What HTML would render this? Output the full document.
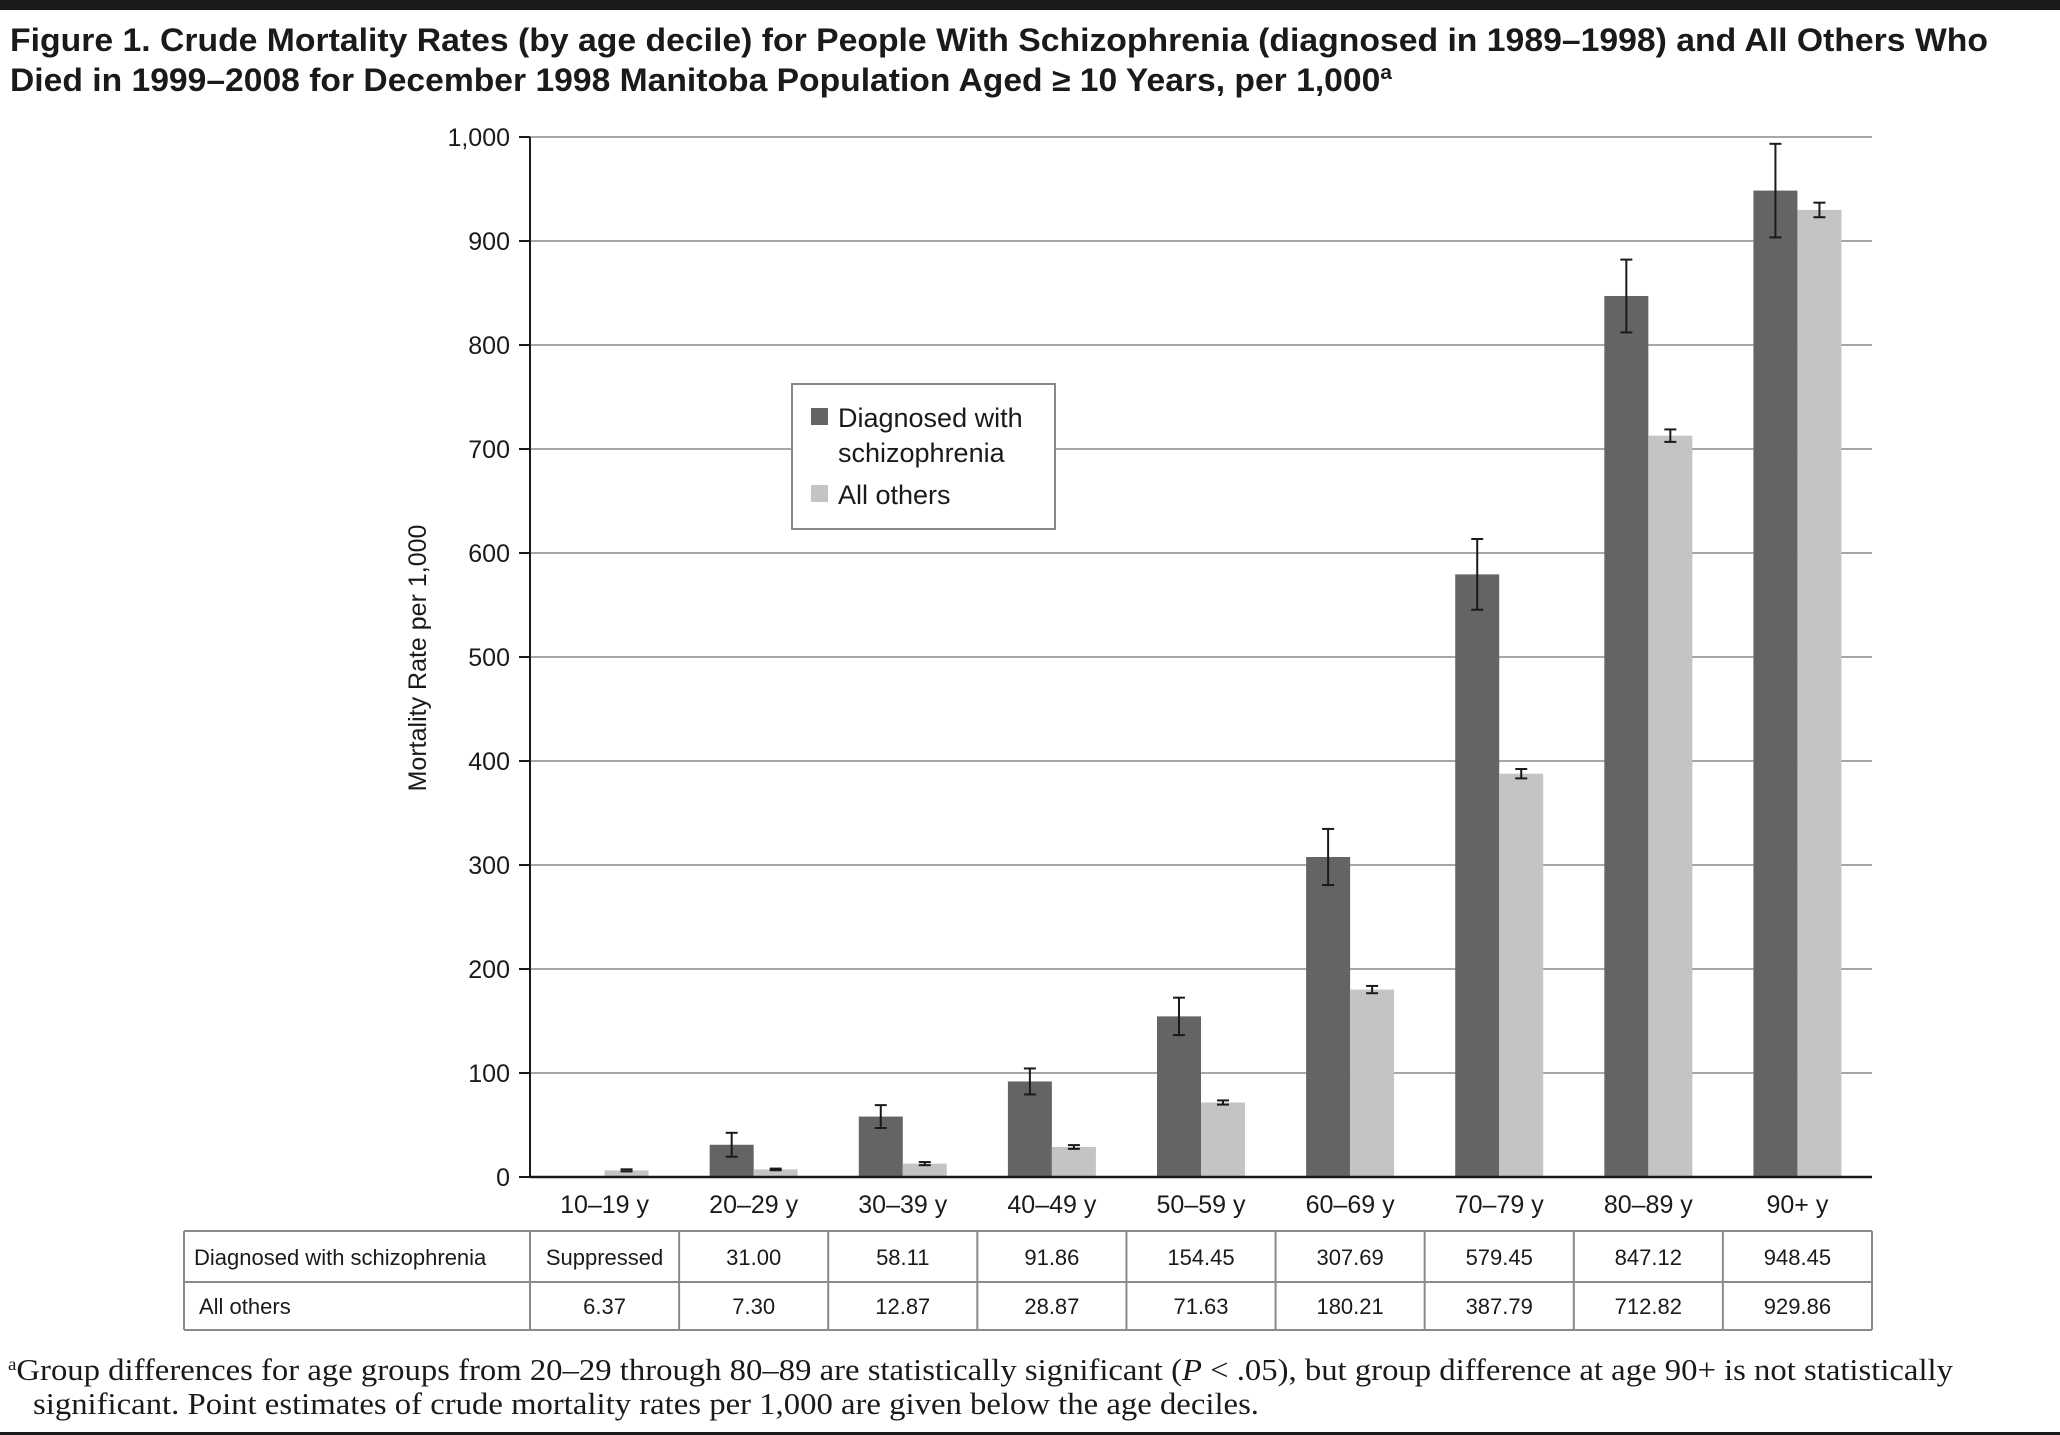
<!DOCTYPE html>
<html><head><meta charset="utf-8"><style>
html,body{margin:0;padding:0;background:#fff;}
svg{display:block;}
text{font-family:"Liberation Sans",sans-serif;fill:#1a1a1a;}
.serif{font-family:"Liberation Serif",serif;}
</style></head><body>
<svg id="chart" width="2060" height="1435" viewBox="0 0 2060 1435">
<rect x="0" y="0" width="2060" height="10" fill="#1a1a1a"/>
<text x="10" y="51" font-size="32" font-weight="bold" textLength="1978" lengthAdjust="spacingAndGlyphs">Figure 1. Crude Mortality Rates (by age decile) for People With Schizophrenia (diagnosed in 1989–1998) and All Others Who</text>
<text x="10" y="91" font-size="32" font-weight="bold" textLength="1382" lengthAdjust="spacingAndGlyphs">Died in 1999–2008 for December 1998 Manitoba Population Aged ≥ 10 Years, per 1,000<tspan font-size="20" dy="-12">a</tspan></text>
<g id="grid"></g>
<g id="bars"></g>
<g id="axes"></g>
<text transform="translate(426,658) rotate(-90)" text-anchor="middle" font-size="25">Mortality Rate per 1,000</text>
<g>
<rect x="792" y="384" width="263" height="145" fill="#fff" stroke="#888" stroke-width="2"/>
<rect x="811" y="408" width="17" height="17" fill="#646464"/>
<text x="838" y="427" font-size="27">Diagnosed with</text>
<text x="838" y="462" font-size="27">schizophrenia</text>
<rect x="811" y="485" width="17" height="17" fill="#c4c4c4"/>
<text x="838" y="504" font-size="27">All others</text>
</g>
<g id="table"></g>
<text class="serif" x="8" y="1380" font-size="31" textLength="1945" lengthAdjust="spacingAndGlyphs"><tspan font-size="18" dy="-10">a</tspan><tspan dy="10">Group differences for age groups from 20–29 through 80–89 are statistically significant (</tspan><tspan font-style="italic">P</tspan><tspan> &lt; .05), but group difference at age 90+ is not statistically</tspan></text>
<text class="serif" x="33" y="1414" font-size="31" textLength="1226" lengthAdjust="spacingAndGlyphs">significant. Point estimates of crude mortality rates per 1,000 are given below the age deciles.</text>
<rect x="0" y="1432" width="2060" height="3" fill="#1a1a1a"/>
</svg>
<script>
const categories = ["10–19 y","20–29 y","30–39 y","40–49 y","50–59 y","60–69 y","70–79 y","80–89 y","90+ y"];
const schizValues = [null,31.00,58.11,91.86,154.45,307.69,579.45,847.12,948.45];
const schizErr = [null,11.5,11,12.5,18,27,34,35,45];
const otherValues = [6.37,7.30,12.87,28.87,71.63,180.21,387.79,712.82,929.86];
const otherErr = [1,0.8,1.5,1.8,2,3.5,4.5,6,7];
const schizLabels = ["Suppressed","31.00","58.11","91.86","154.45","307.69","579.45","847.12","948.45"];
const otherLabels = ["6.37","7.30","12.87","28.87","71.63","180.21","387.79","712.82","929.86"];
const yTicks = [0,100,200,300,400,500,600,700,800,900,1000];

const NS="http://www.w3.org/2000/svg";
const X0=530,X1=1872,Y0=1177,Y1=137;
const bandW=(X1-X0)/categories.length;
const yS=v=>Y0-(v/1000)*(Y0-Y1);
const xC=i=>X0+bandW*(i+0.5);
function mk(tag,attrs,parent,txt){const e=document.createElementNS(NS,tag);for(const k in attrs)e.setAttribute(k,attrs[k]);if(txt!==undefined)e.textContent=txt;parent.appendChild(e);return e;}
const grid=document.getElementById('grid'),bars=document.getElementById('bars'),axes=document.getElementById('axes'),table=document.getElementById('table');

yTicks.forEach(t=>{
  const y=yS(t);
  if(t>0){const g=mk('line',{x1:X0,x2:X1,y1:y,y2:y,stroke:'#8a8a8a','stroke-width':1.5},grid);
  
  }
  const tk=mk('line',{x1:X0-11,x2:X0,y1:y,y2:y,stroke:'#1a1a1a','stroke-width':2},axes);
  
  
  const lb=mk('text',{x:X0-20,y:y+9,'text-anchor':'end','font-size':25},axes,t.toLocaleString('en-US'));
  
  
});
const bw=44;
function errBar(cx,v,e,name){
  const g=mk('g',{stroke:'#1a1a1a','stroke-width':2},bars);
  
  
  const yt=yS(v+e),yb=yS(v-e);
  mk('line',{x1:cx,x2:cx,y1:yt,y2:yb},g);
  mk('line',{x1:cx-6,x2:cx+6,y1:yt,y2:yt},g);
  mk('line',{x1:cx-6,x2:cx+6,y1:yb,y2:yb},g);
}
categories.forEach((c,i)=>{
  const cx=xC(i);
  if(schizValues[i]!==null){
    const r=mk('rect',{x:cx-bw,y:yS(schizValues[i]),width:bw,height:Y0-yS(schizValues[i]),fill:'#646464'},bars);
    
    
    errBar(cx-bw/2,schizValues[i],schizErr[i],'errorbar-schizophrenia-'+i);
  }
  const r2=mk('rect',{x:cx,y:yS(otherValues[i]),width:bw,height:Y0-yS(otherValues[i]),fill:'#c4c4c4'},bars);
  
  
  errBar(cx+bw/2,otherValues[i],otherErr[i],'errorbar-all-others-'+i);
  const l=mk('text',{x:cx,y:1213,'text-anchor':'middle','font-size':25},axes,c);
  
  
});
const ax=mk('line',{x1:X0,x2:X0,y1:Y1,y2:Y0,stroke:'#1a1a1a','stroke-width':2},axes);


const bx=mk('line',{x1:X0,x2:X1,y1:Y0,y2:Y0,stroke:'#1a1a1a','stroke-width':2.5},axes);



const TL=184,TT=1231,RM=1282,TB=1330;
[[TL,TT,X1,TT],[TL,RM,X1,RM],[TL,TB,X1,TB],[TL,TT,TL,TB]].forEach((p,k)=>{
  const ln=mk('line',{x1:p[0],y1:p[1],x2:p[2],y2:p[3],stroke:'#8a8a8a','stroke-width':2},table);
  
  
});
for(let i=0;i<=categories.length;i++){
  const x=X0+bandW*i;
  const ln=mk('line',{x1:x,y1:TT,x2:x,y2:TB,stroke:'#8a8a8a','stroke-width':2},table);
  
  
}
const h1=mk('text',{x:194,y:1265,'font-size':22},table,'Diagnosed with schizophrenia');


const h2=mk('text',{x:199,y:1314,'font-size':22},table,'All others');


categories.forEach((c,i)=>{
  const a=mk('text',{x:xC(i),y:1265,'text-anchor':'middle','font-size':22},table,schizLabels[i]);
  
  
  const b=mk('text',{x:xC(i),y:1314,'text-anchor':'middle','font-size':22},table,otherLabels[i]);
  
  
});
</script>
</body></html>
